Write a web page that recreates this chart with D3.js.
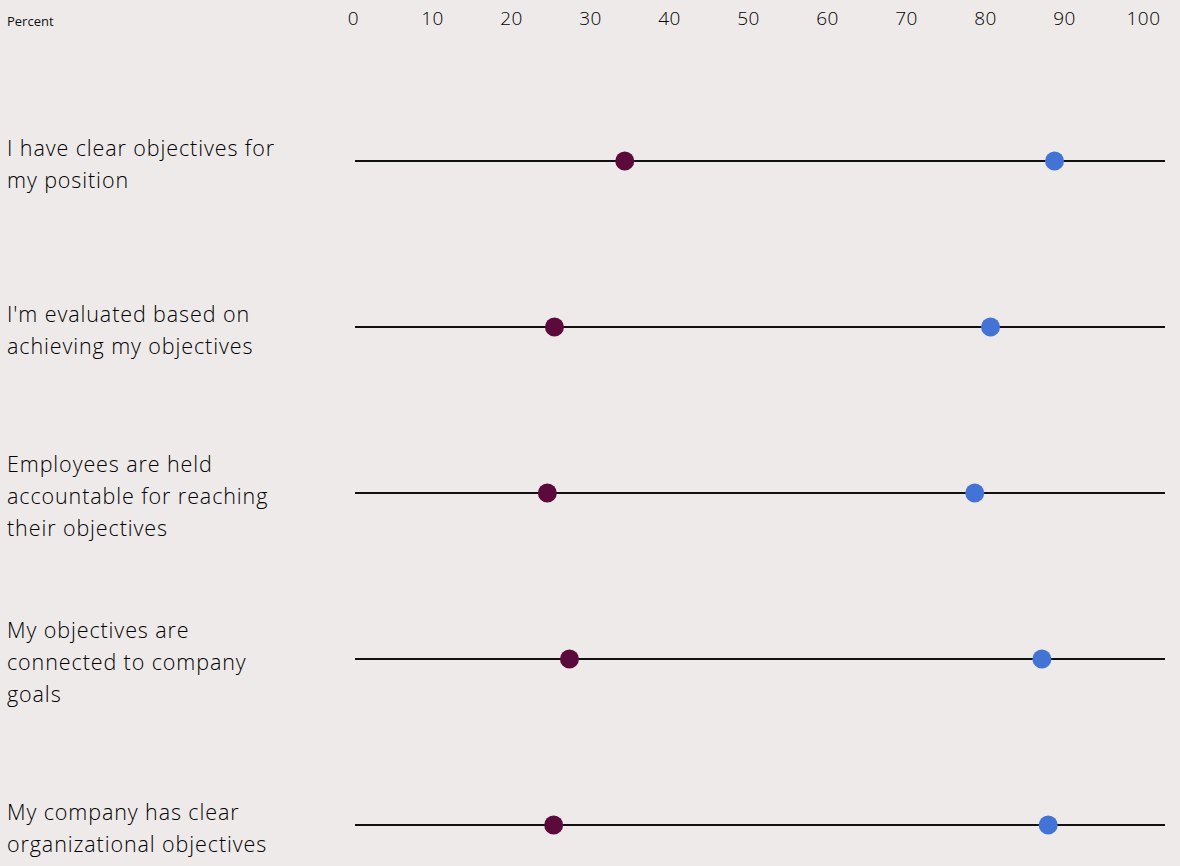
<!DOCTYPE html>
<html>
<head>
<meta charset="utf-8">
<script src="https://cdn.jsdelivr.net/npm/d3@7"></script>
<style>
  body { margin: 0; background: #eeeae9; }
  svg { display: block; font-family: "Open Sans", Lato, sans-serif; }
</style>
</head>
<body>
<div id="container"></div>
<script>
// categories (line breaks as in the original)
const categories = [
  "I have clear objectives for\nmy position",
  "I'm evaluated based on\nachieving my objectives",
  "Employees are held\naccountable for reaching\ntheir objectives",
  "My objectives are\nconnected to company\ngoals",
  "My company has clear\norganizational objectives"
];
const lowSeries = [34.4, 25.5, 24.6, 27.4, 25.4];
const highSeries = [88.8, 80.7, 78.7, 87.2, 88.0];
const tickValues = [0, 10, 20, 30, 40, 50, 60, 70, 80, 90, 100];

const w = 1180;
const h = 866;

const xScale = d3.scaleLinear()
  .domain([0, 100])
  .range([353, 1143]);

const yScale = d3.scalePoint()
  .domain(categories)
  .range([161, 825]);

const svg = d3.select("#container")
  .append("svg")
  .attr("width", w)
  .attr("height", h);

svg.append("rect")
  .attr("width", w)
  .attr("height", h)
  .attr("fill", "#eeeae9");

svg.append("text")
  .attr("x", 7)
  .attr("y", 26)
  .text("Percent")
  .style("font-size", "13px")
  .attr("fill", "#111");

// top axis, labels only
const xAxis = d3.axisTop(xScale)
  .tickValues(tickValues)
  .tickSize(0)
  .tickPadding(0);

const gx = svg.append("g")
  .attr("transform", "translate(0,25)")
  .call(xAxis);
gx.select(".domain").remove();
gx.selectAll("text")
  .style("font-family", "'Open Sans', Lato, sans-serif")
  .style("font-size", "19px")
  .style("font-weight", 300)
  .style("letter-spacing", "0.5px")
  .attr("fill", "#000");

// row lines
svg.selectAll(".row-line")
  .data(categories)
  .enter()
  .append("line")
  .attr("class", "row-line")
  .attr("x1", 355)
  .attr("x2", 1165)
  .attr("y1", d => yScale(d))
  .attr("y2", d => yScale(d))
  .attr("stroke", "#111")
  .attr("stroke-width", 2);

// category labels
const lineHeight = 32;
svg.selectAll(".cat-label")
  .data(categories)
  .enter()
  .append("text")
  .attr("class", "cat-label")
  .attr("fill", "#000")
  .style("font-size", "21.5px")
  .style("font-weight", 300)
  .style("letter-spacing", "0.9px")
  .each(function(d) {
    const lines = d.split("\n");
    const top = yScale(d) + 3 - (lines.length - 1) * lineHeight / 2;
    d3.select(this).selectAll("tspan")
      .data(lines)
      .enter()
      .append("tspan")
      .attr("x", 7)
      .attr("y", (l, i) => top + i * lineHeight)
      .attr("dy", "0.35em")
      .text(l => l);
  });

// dots
svg.selectAll(".dot-low")
  .data(lowSeries)
  .enter()
  .append("circle")
  .attr("class", "dot-low")
  .attr("cx", d => xScale(d))
  .attr("cy", (d, i) => yScale(categories[i]))
  .attr("r", 9.5)
  .attr("fill", "#5c0a3b");

svg.selectAll(".dot-high")
  .data(highSeries)
  .enter()
  .append("circle")
  .attr("class", "dot-high")
  .attr("cx", d => xScale(d))
  .attr("cy", (d, i) => yScale(categories[i]))
  .attr("r", 9.5)
  .attr("fill", "#4473d6");
</script>
</body>
</html>
